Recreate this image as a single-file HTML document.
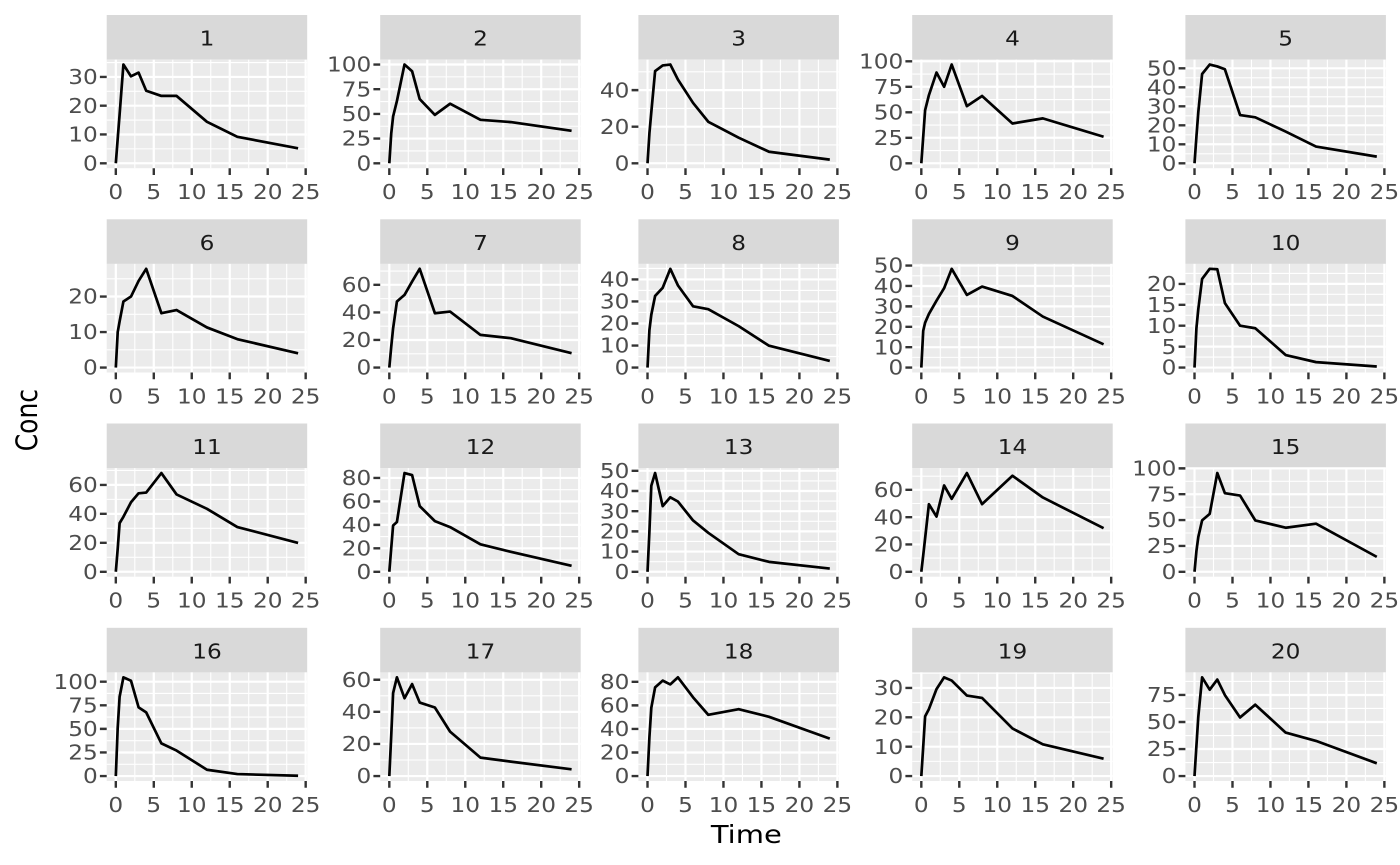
<!DOCTYPE html>
<html><head><meta charset="utf-8">
<style>
html,body{margin:0;padding:0;background:#fff;}
svg{display:block;}
.a{font-family:"DejaVu Sans","Liberation Sans",sans-serif;font-size:20px;fill:#4D4D4D;}
.ye{text-anchor:end;}
.xm{text-anchor:middle;}
.s{font-family:"DejaVu Sans","Liberation Sans",sans-serif;font-size:20px;fill:#1A1A1A;text-anchor:middle;}
.t{font-family:"DejaVu Sans","Liberation Sans",sans-serif;font-size:25px;fill:#000;text-anchor:middle;}
.mn{stroke:#fff;stroke-width:1.1;fill:none;vector-effect:non-scaling-stroke;}
.mj{stroke:#fff;stroke-width:2.2;fill:none;vector-effect:non-scaling-stroke;}
.tk{stroke:#333;stroke-width:2.4;fill:none;vector-effect:non-scaling-stroke;}
.ln{stroke:#000;stroke-width:2.7;fill:none;stroke-linejoin:round;vector-effect:non-scaling-stroke;}
</style></head>
<body>
<svg width="1400" height="865" viewBox="0 0 1400 865" xmlns="http://www.w3.org/2000/svg">
<defs>
<g id="vg"><path class="mn" d="M28.10 0V108.6M66.07 0V108.6M104.05 0V108.6M142.02 0V108.6M180 0V108.6"/><path class="mj" d="M9.114 0V108.6M47.09 0V108.6M85.06 0V108.6M123.03 0V108.6M161.01 0V108.6M198.98 0V108.6"/></g>
<path id="xt" class="tk" d="M9.114 108.6V115.4M47.09 108.6V115.4M85.06 108.6V115.4M123.03 108.6V115.4M161.01 108.6V115.4M198.98 108.6V115.4"/>
<rect id="bg" width="200.5" height="108.6" fill="#EBEBEB"/>
<rect id="sb" y="-44.6" width="200.5" height="44.6" fill="#D9D9D9"/>
</defs>
<rect width="1400" height="865" fill="#fff"/>

<!-- P1 -->
<g transform="translate(106.7,59.6)">
<use href="#sb"/><text class="s" transform="translate(100.25,-13.9) scale(1.16,1)">1</text>
<use href="#bg"/><use href="#vg"/>
<g transform="matrix(7.5947 0 0 -2.8783 9.1136 103.664)">
<path class="mn" d="M-1.2 5H25.2M-1.2 15H25.2M-1.2 25H25.2M-1.2 35H25.2"/>
<path class="mj" d="M-1.2 0H25.2M-1.2 10H25.2M-1.2 20H25.2M-1.2 30H25.2"/>
<path class="tk" d="M-2.095 0H-1.2M-2.095 10H-1.2M-2.095 20H-1.2M-2.095 30H-1.2"/>
<polyline class="ln" points="0,0 0.25,8.6 0.5,17 1,34.3 2,30.2 3,31.5 4,25.2 6,23.4 8,23.4 12,14.4 16,9.2 24,5.2"/>
</g>
<use href="#xt"/>
<g class="a ye" transform="scale(1.16,1)"><text x="-7.76" y="110.81">0</text><text x="-7.76" y="82.03">10</text><text x="-7.76" y="53.24">20</text><text x="-7.76" y="24.46">30</text></g>
<g class="a xm" transform="translate(0,139.4) scale(1.16,1)"><text x="7.857">0</text><text x="40.59">5</text><text x="73.33">10</text><text x="106.06">15</text><text x="138.80">20</text><text x="171.53">25</text></g>
</g>

<!-- P2 -->
<g transform="translate(380.2,59.6)">
<use href="#sb"/><text class="s" transform="translate(100.25,-13.9) scale(1.16,1)">2</text>
<use href="#bg"/><use href="#vg"/>
<g transform="matrix(7.5947 0 0 -0.98727 9.1136 103.664)">
<path class="mn" d="M-1.2 12.5H25.2M-1.2 37.5H25.2M-1.2 62.5H25.2M-1.2 87.5H25.2"/>
<path class="mj" d="M-1.2 0H25.2M-1.2 25H25.2M-1.2 50H25.2M-1.2 75H25.2M-1.2 100H25.2"/>
<path class="tk" d="M-2.095 0H-1.2M-2.095 25H-1.2M-2.095 50H-1.2M-2.095 75H-1.2M-2.095 100H-1.2"/>
<polyline class="ln" points="0,0 0.25,30 0.5,47.4 1,63 2,100 3,93.2 4,65 6,49 8,60.3 12,44 16,41.7 24,32.9"/>
</g>
<use href="#xt"/>
<g class="a ye" transform="scale(1.16,1)"><text x="-7.76" y="110.81">0</text><text x="-7.76" y="86.13">25</text><text x="-7.76" y="61.45">50</text><text x="-7.76" y="36.76">75</text><text x="-7.76" y="12.08">100</text></g>
<g class="a xm" transform="translate(0,139.4) scale(1.16,1)"><text x="7.857">0</text><text x="40.59">5</text><text x="73.33">10</text><text x="106.06">15</text><text x="138.80">20</text><text x="171.53">25</text></g>
</g>

<!-- P3 -->
<g transform="translate(638.4,59.6)">
<use href="#sb"/><text class="s" transform="translate(100.25,-13.9) scale(1.16,1)">3</text>
<use href="#bg"/><use href="#vg"/>
<g transform="matrix(7.5947 0 0 -1.8283 9.1136 103.664)">
<path class="mn" d="M-1.2 10H25.2M-1.2 30H25.2M-1.2 50H25.2"/>
<path class="mj" d="M-1.2 0H25.2M-1.2 20H25.2M-1.2 40H25.2"/>
<path class="tk" d="M-2.095 0H-1.2M-2.095 20H-1.2M-2.095 40H-1.2"/>
<polyline class="ln" points="0,0 0.25,16.4 0.5,28 1,50.4 2,53.5 3,54 4,45.8 6,33 8,22.7 12,14 16,6.3 24,2"/>
</g>
<use href="#xt"/>
<g class="a ye" transform="scale(1.16,1)"><text x="-7.76" y="110.81">0</text><text x="-7.76" y="74.24">20</text><text x="-7.76" y="37.68">40</text></g>
<g class="a xm" transform="translate(0,139.4) scale(1.16,1)"><text x="7.857">0</text><text x="40.59">5</text><text x="73.33">10</text><text x="106.06">15</text><text x="138.80">20</text><text x="171.53">25</text></g>
</g>

<!-- P4 -->
<g transform="translate(912.2,59.6)">
<use href="#sb"/><text class="s" transform="translate(100.25,-13.9) scale(1.16,1)">4</text>
<use href="#bg"/><use href="#vg"/>
<g transform="matrix(7.5947 0 0 -1.01991 9.1136 103.664)">
<path class="mn" d="M-1.2 12.5H25.2M-1.2 37.5H25.2M-1.2 62.5H25.2M-1.2 87.5H25.2"/>
<path class="mj" d="M-1.2 0H25.2M-1.2 25H25.2M-1.2 50H25.2M-1.2 75H25.2M-1.2 100H25.2"/>
<path class="tk" d="M-2.095 0H-1.2M-2.095 25H-1.2M-2.095 50H-1.2M-2.095 75H-1.2M-2.095 100H-1.2"/>
<polyline class="ln" points="0,0 0.25,26 0.5,52 1,66.8 2,89 3,75 4,96.8 6,56 8,66 12,39 16,44 24,26"/>
</g>
<use href="#xt"/>
<g class="a ye" transform="scale(1.16,1)"><text x="-7.76" y="110.81">0</text><text x="-7.76" y="85.31">25</text><text x="-7.76" y="59.81">50</text><text x="-7.76" y="34.32">75</text><text x="-7.76" y="8.82">100</text></g>
<g class="a xm" transform="translate(0,139.4) scale(1.16,1)"><text x="7.857">0</text><text x="40.59">5</text><text x="73.33">10</text><text x="106.06">15</text><text x="138.80">20</text><text x="171.53">25</text></g>
</g>

<!-- P5 -->
<g transform="translate(1185.4,59.6)">
<use href="#sb"/><text class="s" transform="translate(100.25,-13.9) scale(1.16,1)">5</text>
<use href="#bg"/><use href="#vg"/>
<g transform="matrix(7.5947 0 0 -1.8986 9.1136 103.664)">
<path class="mn" d="M-1.2 5H25.2M-1.2 15H25.2M-1.2 25H25.2M-1.2 35H25.2M-1.2 45H25.2"/>
<path class="mj" d="M-1.2 0H25.2M-1.2 10H25.2M-1.2 20H25.2M-1.2 30H25.2M-1.2 40H25.2M-1.2 50H25.2"/>
<path class="tk" d="M-2.095 0H-1.2M-2.095 10H-1.2M-2.095 20H-1.2M-2.095 30H-1.2M-2.095 40H-1.2M-2.095 50H-1.2"/>
<polyline class="ln" points="0,0 0.25,14 0.5,27 1,47 2,52 3,51 4,49.5 6,25.4 8,24.2 12,16.7 16,8.8 24,3.5"/>
</g>
<use href="#xt"/>
<g class="a ye" transform="scale(1.16,1)"><text x="-7.76" y="110.81">0</text><text x="-7.76" y="91.82">10</text><text x="-7.76" y="72.84">20</text><text x="-7.76" y="53.85">30</text><text x="-7.76" y="34.87">40</text><text x="-7.76" y="15.88">50</text></g>
<g class="a xm" transform="translate(0,139.4) scale(1.16,1)"><text x="7.857">0</text><text x="40.59">5</text><text x="73.33">10</text><text x="106.06">15</text><text x="138.80">20</text><text x="171.53">25</text></g>
</g>

<!-- P6 -->
<g transform="translate(106.7,263.9)">
<use href="#sb"/><text class="s" transform="translate(100.25,-13.9) scale(1.16,1)">6</text>
<use href="#bg"/><use href="#vg"/>
<g transform="matrix(7.5947 0 0 -3.55133 9.1136 103.664)">
<path class="mn" d="M-1.2 5H25.2M-1.2 15H25.2M-1.2 25H25.2"/>
<path class="mj" d="M-1.2 0H25.2M-1.2 10H25.2M-1.2 20H25.2"/>
<path class="tk" d="M-2.095 0H-1.2M-2.095 10H-1.2M-2.095 20H-1.2"/>
<polyline class="ln" points="0,0 0.25,10 0.5,13 1,18.6 2,20 3,24.4 4,27.8 6,15.3 8,16.2 12,11.3 16,8 24,4"/>
</g>
<use href="#xt"/>
<g class="a ye" transform="scale(1.16,1)"><text x="-7.76" y="110.81">0</text><text x="-7.76" y="75.30">10</text><text x="-7.76" y="39.78">20</text></g>
<g class="a xm" transform="translate(0,139.4) scale(1.16,1)"><text x="7.857">0</text><text x="40.59">5</text><text x="73.33">10</text><text x="106.06">15</text><text x="138.80">20</text><text x="171.53">25</text></g>
</g>

<!-- P7 -->
<g transform="translate(380.2,263.9)">
<use href="#sb"/><text class="s" transform="translate(100.25,-13.9) scale(1.16,1)">7</text>
<use href="#bg"/><use href="#vg"/>
<g transform="matrix(7.5947 0 0 -1.37887 9.1136 103.664)">
<path class="mn" d="M-1.2 10H25.2M-1.2 30H25.2M-1.2 50H25.2M-1.2 70H25.2"/>
<path class="mj" d="M-1.2 0H25.2M-1.2 20H25.2M-1.2 40H25.2M-1.2 60H25.2"/>
<path class="tk" d="M-2.095 0H-1.2M-2.095 20H-1.2M-2.095 40H-1.2M-2.095 60H-1.2"/>
<polyline class="ln" points="0,0 0.25,15 0.5,28.5 1,47.9 2,52.7 3,62.4 4,71.6 6,39.4 8,40.6 12,23.7 16,21.3 24,10.4"/>
</g>
<use href="#xt"/>
<g class="a ye" transform="scale(1.16,1)"><text x="-7.76" y="110.81">0</text><text x="-7.76" y="83.23">20</text><text x="-7.76" y="55.65">40</text><text x="-7.76" y="28.08">60</text></g>
<g class="a xm" transform="translate(0,139.4) scale(1.16,1)"><text x="7.857">0</text><text x="40.59">5</text><text x="73.33">10</text><text x="106.06">15</text><text x="138.80">20</text><text x="171.53">25</text></g>
</g>

<!-- P8 -->
<g transform="translate(638.4,263.9)">
<use href="#sb"/><text class="s" transform="translate(100.25,-13.9) scale(1.16,1)">8</text>
<use href="#bg"/><use href="#vg"/>
<g transform="matrix(7.5947 0 0 -2.20373 9.1136 103.664)">
<path class="mn" d="M-1.2 5H25.2M-1.2 15H25.2M-1.2 25H25.2M-1.2 35H25.2M-1.2 45H25.2"/>
<path class="mj" d="M-1.2 0H25.2M-1.2 10H25.2M-1.2 20H25.2M-1.2 30H25.2M-1.2 40H25.2"/>
<path class="tk" d="M-2.095 0H-1.2M-2.095 10H-1.2M-2.095 20H-1.2M-2.095 30H-1.2M-2.095 40H-1.2"/>
<polyline class="ln" points="0,0 0.25,17 0.5,24 1,32.5 2,36.2 3,44.8 4,37.3 6,27.8 8,26.5 12,18.8 16,9.9 24,3"/>
</g>
<use href="#xt"/>
<g class="a ye" transform="scale(1.16,1)"><text x="-7.76" y="110.81">0</text><text x="-7.76" y="88.77">10</text><text x="-7.76" y="66.74">20</text><text x="-7.76" y="44.70">30</text><text x="-7.76" y="22.66">40</text></g>
<g class="a xm" transform="translate(0,139.4) scale(1.16,1)"><text x="7.857">0</text><text x="40.59">5</text><text x="73.33">10</text><text x="106.06">15</text><text x="138.80">20</text><text x="171.53">25</text></g>
</g>

<!-- P9 -->
<g transform="translate(912.2,263.9)">
<use href="#sb"/><text class="s" transform="translate(100.25,-13.9) scale(1.16,1)">9</text>
<use href="#bg"/><use href="#vg"/>
<g transform="matrix(7.5947 0 0 -2.03981 9.1136 103.664)">
<path class="mn" d="M-1.2 5H25.2M-1.2 15H25.2M-1.2 25H25.2M-1.2 35H25.2M-1.2 45H25.2"/>
<path class="mj" d="M-1.2 0H25.2M-1.2 10H25.2M-1.2 20H25.2M-1.2 30H25.2M-1.2 40H25.2M-1.2 50H25.2"/>
<path class="tk" d="M-2.095 0H-1.2M-2.095 10H-1.2M-2.095 20H-1.2M-2.095 30H-1.2M-2.095 40H-1.2M-2.095 50H-1.2"/>
<polyline class="ln" points="0,0 0.25,18 0.5,22 1,26.3 2,32.8 3,38.9 4,48.4 6,35.6 8,39.7 12,35.1 16,25 24,11.4"/>
</g>
<use href="#xt"/>
<g class="a ye" transform="scale(1.16,1)"><text x="-7.76" y="110.81">0</text><text x="-7.76" y="90.41">10</text><text x="-7.76" y="70.01">20</text><text x="-7.76" y="49.62">30</text><text x="-7.76" y="29.22">40</text><text x="-7.76" y="8.82">50</text></g>
<g class="a xm" transform="translate(0,139.4) scale(1.16,1)"><text x="7.857">0</text><text x="40.59">5</text><text x="73.33">10</text><text x="106.06">15</text><text x="138.80">20</text><text x="171.53">25</text></g>
</g>

<!-- P10 -->
<g transform="translate(1185.4,263.9)">
<use href="#sb"/><text class="s" transform="translate(100.25,-13.9) scale(1.16,1)">10</text>
<use href="#bg"/><use href="#vg"/>
<g transform="matrix(7.5947 0 0 -4.18335 9.1136 103.664)">
<path class="mn" d="M-1.2 2.5H25.2M-1.2 7.5H25.2M-1.2 12.5H25.2M-1.2 17.5H25.2M-1.2 22.5H25.2"/>
<path class="mj" d="M-1.2 0H25.2M-1.2 5H25.2M-1.2 10H25.2M-1.2 15H25.2M-1.2 20H25.2"/>
<path class="tk" d="M-2.095 0H-1.2M-2.095 5H-1.2M-2.095 10H-1.2M-2.095 15H-1.2M-2.095 20H-1.2"/>
<polyline class="ln" points="0,0 0.25,9.4 0.5,14 1,21.2 2,23.6 3,23.5 4,15.4 6,10 8,9.4 12,3 16,1.3 24,0.25"/>
</g>
<use href="#xt"/>
<g class="a ye" transform="scale(1.16,1)"><text x="-7.76" y="110.81">0</text><text x="-7.76" y="89.89">5</text><text x="-7.76" y="68.98">10</text><text x="-7.76" y="48.06">15</text><text x="-7.76" y="27.14">20</text></g>
<g class="a xm" transform="translate(0,139.4) scale(1.16,1)"><text x="7.857">0</text><text x="40.59">5</text><text x="73.33">10</text><text x="106.06">15</text><text x="138.80">20</text><text x="171.53">25</text></g>
</g>

<!-- P11 -->
<g transform="translate(106.7,468.1)">
<use href="#sb"/><text class="s" transform="translate(100.25,-13.9) scale(1.16,1)">11</text>
<use href="#bg"/><use href="#vg"/>
<g transform="matrix(7.5947 0 0 -1.44761 9.1136 103.664)">
<path class="mn" d="M-1.2 10H25.2M-1.2 30H25.2M-1.2 50H25.2M-1.2 70H25.2"/>
<path class="mj" d="M-1.2 0H25.2M-1.2 20H25.2M-1.2 40H25.2M-1.2 60H25.2"/>
<path class="tk" d="M-2.095 0H-1.2M-2.095 20H-1.2M-2.095 40H-1.2M-2.095 60H-1.2"/>
<polyline class="ln" points="0,0 0.25,16 0.5,33.6 1,38 2,48 3,54.2 4,54.7 6,68.2 8,53.4 12,43.5 16,30.9 24,19.9"/>
</g>
<use href="#xt"/>
<g class="a ye" transform="scale(1.16,1)"><text x="-7.76" y="110.81">0</text><text x="-7.76" y="81.86">20</text><text x="-7.76" y="52.91">40</text><text x="-7.76" y="23.95">60</text></g>
<g class="a xm" transform="translate(0,139.4) scale(1.16,1)"><text x="7.857">0</text><text x="40.59">5</text><text x="73.33">10</text><text x="106.06">15</text><text x="138.80">20</text><text x="171.53">25</text></g>
</g>

<!-- P12 -->
<g transform="translate(380.2,468.1)">
<use href="#sb"/><text class="s" transform="translate(100.25,-13.9) scale(1.16,1)">12</text>
<use href="#bg"/><use href="#vg"/>
<g transform="matrix(7.5947 0 0 -1.17253 9.1136 103.664)">
<path class="mn" d="M-1.2 10H25.2M-1.2 30H25.2M-1.2 50H25.2M-1.2 70H25.2"/>
<path class="mj" d="M-1.2 0H25.2M-1.2 20H25.2M-1.2 40H25.2M-1.2 60H25.2M-1.2 80H25.2"/>
<path class="tk" d="M-2.095 0H-1.2M-2.095 20H-1.2M-2.095 40H-1.2M-2.095 60H-1.2M-2.095 80H-1.2"/>
<polyline class="ln" points="0,0 0.25,20 0.5,39.5 1,42.4 2,84.2 3,82.5 4,56 6,43.2 8,38.1 12,23.4 16,17 24,5.1"/>
</g>
<use href="#xt"/>
<g class="a ye" transform="scale(1.16,1)"><text x="-7.76" y="110.81">0</text><text x="-7.76" y="87.36">20</text><text x="-7.76" y="63.91">40</text><text x="-7.76" y="40.46">60</text><text x="-7.76" y="17.01">80</text></g>
<g class="a xm" transform="translate(0,139.4) scale(1.16,1)"><text x="7.857">0</text><text x="40.59">5</text><text x="73.33">10</text><text x="106.06">15</text><text x="138.80">20</text><text x="171.53">25</text></g>
</g>

<!-- P13 -->
<g transform="translate(638.4,468.1)">
<use href="#sb"/><text class="s" transform="translate(100.25,-13.9) scale(1.16,1)">13</text>
<use href="#bg"/><use href="#vg"/>
<g transform="matrix(7.5947 0 0 -2.01896 9.1136 103.664)">
<path class="mn" d="M-1.2 5H25.2M-1.2 15H25.2M-1.2 25H25.2M-1.2 35H25.2M-1.2 45H25.2"/>
<path class="mj" d="M-1.2 0H25.2M-1.2 10H25.2M-1.2 20H25.2M-1.2 30H25.2M-1.2 40H25.2M-1.2 50H25.2"/>
<path class="tk" d="M-2.095 0H-1.2M-2.095 10H-1.2M-2.095 20H-1.2M-2.095 30H-1.2M-2.095 40H-1.2M-2.095 50H-1.2"/>
<polyline class="ln" points="0,0 0.25,20 0.5,42.6 1,48.9 2,32.5 3,36.9 4,34.8 6,25.4 8,19.3 12,8.7 16,4.9 24,1.6"/>
</g>
<use href="#xt"/>
<g class="a ye" transform="scale(1.16,1)"><text x="-7.76" y="110.81">0</text><text x="-7.76" y="90.62">10</text><text x="-7.76" y="70.43">20</text><text x="-7.76" y="50.24">30</text><text x="-7.76" y="30.05">40</text><text x="-7.76" y="9.86">50</text></g>
<g class="a xm" transform="translate(0,139.4) scale(1.16,1)"><text x="7.857">0</text><text x="40.59">5</text><text x="73.33">10</text><text x="106.06">15</text><text x="138.80">20</text><text x="171.53">25</text></g>
</g>

<!-- P14 -->
<g transform="translate(912.2,468.1)">
<use href="#sb"/><text class="s" transform="translate(100.25,-13.9) scale(1.16,1)">14</text>
<use href="#bg"/><use href="#vg"/>
<g transform="matrix(7.5947 0 0 -1.36552 9.1136 103.664)">
<path class="mn" d="M-1.2 10H25.2M-1.2 30H25.2M-1.2 50H25.2M-1.2 70H25.2"/>
<path class="mj" d="M-1.2 0H25.2M-1.2 20H25.2M-1.2 40H25.2M-1.2 60H25.2"/>
<path class="tk" d="M-2.095 0H-1.2M-2.095 20H-1.2M-2.095 40H-1.2M-2.095 60H-1.2"/>
<polyline class="ln" points="0,0 0.25,12 0.5,24.5 1,49.5 2,40.4 3,63.2 4,53.4 6,72.3 8,49.5 12,70.3 16,54.4 24,31.9"/>
</g>
<use href="#xt"/>
<g class="a ye" transform="scale(1.16,1)"><text x="-7.76" y="110.81">0</text><text x="-7.76" y="83.50">20</text><text x="-7.76" y="56.19">40</text><text x="-7.76" y="28.88">60</text></g>
<g class="a xm" transform="translate(0,139.4) scale(1.16,1)"><text x="7.857">0</text><text x="40.59">5</text><text x="73.33">10</text><text x="106.06">15</text><text x="138.80">20</text><text x="171.53">25</text></g>
</g>

<!-- P15 -->
<g transform="translate(1185.4,468.1)">
<use href="#sb"/><text class="s" transform="translate(100.25,-13.9) scale(1.16,1)">15</text>
<use href="#bg"/><use href="#vg"/>
<g transform="matrix(7.5947 0 0 -1.03379 9.1136 103.664)">
<path class="mn" d="M-1.2 12.5H25.2M-1.2 37.5H25.2M-1.2 62.5H25.2M-1.2 87.5H25.2"/>
<path class="mj" d="M-1.2 0H25.2M-1.2 25H25.2M-1.2 50H25.2M-1.2 75H25.2M-1.2 100H25.2"/>
<path class="tk" d="M-2.095 0H-1.2M-2.095 25H-1.2M-2.095 50H-1.2M-2.095 75H-1.2M-2.095 100H-1.2"/>
<polyline class="ln" points="0,0 0.25,20 0.5,33.7 1,49.7 2,56 3,95.5 4,76 6,73.7 8,49.7 12,42.6 16,46.5 24,14.4"/>
</g>
<use href="#xt"/>
<g class="a ye" transform="scale(1.16,1)"><text x="-7.76" y="110.81">0</text><text x="-7.76" y="84.97">25</text><text x="-7.76" y="59.12">50</text><text x="-7.76" y="33.28">75</text><text x="-7.76" y="7.43">100</text></g>
<g class="a xm" transform="translate(0,139.4) scale(1.16,1)"><text x="7.857">0</text><text x="40.59">5</text><text x="73.33">10</text><text x="106.06">15</text><text x="138.80">20</text><text x="171.53">25</text></g>
</g>

<!-- P16 -->
<g transform="translate(106.7,672.4)">
<use href="#sb"/><text class="s" transform="translate(100.25,-13.9) scale(1.16,1)">16</text>
<use href="#bg"/><use href="#vg"/>
<g transform="matrix(7.5947 0 0 -0.94385 9.1136 103.664)">
<path class="mn" d="M-1.2 12.5H25.2M-1.2 37.5H25.2M-1.2 62.5H25.2M-1.2 87.5H25.2"/>
<path class="mj" d="M-1.2 0H25.2M-1.2 25H25.2M-1.2 50H25.2M-1.2 75H25.2M-1.2 100H25.2"/>
<path class="tk" d="M-2.095 0H-1.2M-2.095 25H-1.2M-2.095 50H-1.2M-2.095 75H-1.2M-2.095 100H-1.2"/>
<polyline class="ln" points="0,0 0.25,51.6 0.5,84 1,104.6 2,101 3,72.8 4,67.5 6,34.6 8,27 12,6.7 16,2.1 24,0.3"/>
</g>
<use href="#xt"/>
<g class="a ye" transform="scale(1.16,1)"><text x="-7.76" y="110.81">0</text><text x="-7.76" y="87.21">25</text><text x="-7.76" y="63.62">50</text><text x="-7.76" y="40.02">75</text><text x="-7.76" y="16.42">100</text></g>
<g class="a xm" transform="translate(0,139.4) scale(1.16,1)"><text x="7.857">0</text><text x="40.59">5</text><text x="73.33">10</text><text x="106.06">15</text><text x="138.80">20</text><text x="171.53">25</text></g>
</g>

<!-- P17 -->
<g transform="translate(380.2,672.4)">
<use href="#sb"/><text class="s" transform="translate(100.25,-13.9) scale(1.16,1)">17</text>
<use href="#bg"/><use href="#vg"/>
<g transform="matrix(7.5947 0 0 -1.60532 9.1136 103.664)">
<path class="mn" d="M-1.2 10H25.2M-1.2 30H25.2M-1.2 50H25.2"/>
<path class="mj" d="M-1.2 0H25.2M-1.2 20H25.2M-1.2 40H25.2M-1.2 60H25.2"/>
<path class="tk" d="M-2.095 0H-1.2M-2.095 20H-1.2M-2.095 40H-1.2M-2.095 60H-1.2"/>
<polyline class="ln" points="0,0 0.25,25 0.5,51.7 1,61.5 2,48.5 3,57.3 4,45.8 6,42.7 8,27.7 12,11.5 16,9 24,4.2"/>
</g>
<use href="#xt"/>
<g class="a ye" transform="scale(1.16,1)"><text x="-7.76" y="110.81">0</text><text x="-7.76" y="78.70">20</text><text x="-7.76" y="46.60">40</text><text x="-7.76" y="14.49">60</text></g>
<g class="a xm" transform="translate(0,139.4) scale(1.16,1)"><text x="7.857">0</text><text x="40.59">5</text><text x="73.33">10</text><text x="106.06">15</text><text x="138.80">20</text><text x="171.53">25</text></g>
</g>

<!-- P18 -->
<g transform="translate(638.4,672.4)">
<use href="#sb"/><text class="s" transform="translate(100.25,-13.9) scale(1.16,1)">18</text>
<use href="#bg"/><use href="#vg"/>
<g transform="matrix(7.5947 0 0 -1.17813 9.1136 103.664)">
<path class="mn" d="M-1.2 10H25.2M-1.2 30H25.2M-1.2 50H25.2M-1.2 70H25.2"/>
<path class="mj" d="M-1.2 0H25.2M-1.2 20H25.2M-1.2 40H25.2M-1.2 60H25.2M-1.2 80H25.2"/>
<path class="tk" d="M-2.095 0H-1.2M-2.095 20H-1.2M-2.095 40H-1.2M-2.095 60H-1.2M-2.095 80H-1.2"/>
<polyline class="ln" points="0,0 0.25,33 0.5,58 1,75.3 2,81 3,77.8 4,83.8 6,66.8 8,52 12,56.8 16,50.3 24,31.8"/>
</g>
<use href="#xt"/>
<g class="a ye" transform="scale(1.16,1)"><text x="-7.76" y="110.81">0</text><text x="-7.76" y="87.25">20</text><text x="-7.76" y="63.68">40</text><text x="-7.76" y="40.12">60</text><text x="-7.76" y="16.56">80</text></g>
<g class="a xm" transform="translate(0,139.4) scale(1.16,1)"><text x="7.857">0</text><text x="40.59">5</text><text x="73.33">10</text><text x="106.06">15</text><text x="138.80">20</text><text x="171.53">25</text></g>
</g>

<!-- P19 -->
<g transform="translate(912.2,672.4)">
<use href="#sb"/><text class="s" transform="translate(100.25,-13.9) scale(1.16,1)">19</text>
<use href="#bg"/><use href="#vg"/>
<g transform="matrix(7.5947 0 0 -2.9383 9.1136 103.664)">
<path class="mn" d="M-1.2 5H25.2M-1.2 15H25.2M-1.2 25H25.2M-1.2 35H25.2"/>
<path class="mj" d="M-1.2 0H25.2M-1.2 10H25.2M-1.2 20H25.2M-1.2 30H25.2"/>
<path class="tk" d="M-2.095 0H-1.2M-2.095 10H-1.2M-2.095 20H-1.2M-2.095 30H-1.2"/>
<polyline class="ln" points="0,0 0.25,10 0.5,20.3 1,22.8 2,29.6 3,33.6 4,32.5 6,27.4 8,26.6 12,16.2 16,10.8 24,5.9"/>
</g>
<use href="#xt"/>
<g class="a ye" transform="scale(1.16,1)"><text x="-7.76" y="110.81">0</text><text x="-7.76" y="81.43">10</text><text x="-7.76" y="52.04">20</text><text x="-7.76" y="22.66">30</text></g>
<g class="a xm" transform="translate(0,139.4) scale(1.16,1)"><text x="7.857">0</text><text x="40.59">5</text><text x="73.33">10</text><text x="106.06">15</text><text x="138.80">20</text><text x="171.53">25</text></g>
</g>

<!-- P20 -->
<g transform="translate(1185.4,672.4)">
<use href="#sb"/><text class="s" transform="translate(100.25,-13.9) scale(1.16,1)">20</text>
<use href="#bg"/><use href="#vg"/>
<g transform="matrix(7.5947 0 0 -1.08135 9.1136 103.664)">
<path class="mn" d="M-1.2 12.5H25.2M-1.2 37.5H25.2M-1.2 62.5H25.2M-1.2 87.5H25.2"/>
<path class="mj" d="M-1.2 0H25.2M-1.2 25H25.2M-1.2 50H25.2M-1.2 75H25.2"/>
<path class="tk" d="M-2.095 0H-1.2M-2.095 25H-1.2M-2.095 50H-1.2M-2.095 75H-1.2"/>
<polyline class="ln" points="0,0 0.25,28 0.5,55 1,91.3 2,79.9 3,89.2 4,74.9 6,54.2 8,66 12,40.2 16,32.5 24,11.8"/>
</g>
<use href="#xt"/>
<g class="a ye" transform="scale(1.16,1)"><text x="-7.76" y="110.81">0</text><text x="-7.76" y="83.78">25</text><text x="-7.76" y="56.74">50</text><text x="-7.76" y="29.71">75</text></g>
<g class="a xm" transform="translate(0,139.4) scale(1.16,1)"><text x="7.857">0</text><text x="40.59">5</text><text x="73.33">10</text><text x="106.06">15</text><text x="138.80">20</text><text x="171.53">25</text></g>
</g>

<!-- Axis titles -->
<text class="t" transform="translate(746.3,843) scale(1.16,1)">Time</text>
<text class="t" transform="translate(37,420.1) scale(1.16,1) rotate(-90)">Conc</text>
</svg>
</body></html>
